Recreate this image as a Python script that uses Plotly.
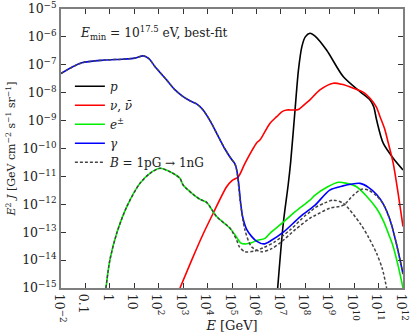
import numpy as np
import plotly.graph_objects as go

# values, as log10(E / GeV) and log10(E^2 J)
P_LOGE = [6.87, 7.1, 7.3, 7.4, 7.58, 7.72, 7.86, 8.0, 8.19, 8.4, 8.87, 9.56, 10.24, 10.65, 10.8,
          10.92, 11.19, 11.6, 12.0]
P_LOGJ = [-15.0, -12.68, -11.3, -10.5, -8.62, -7.19, -6.35, -6.0, -5.87, -5.97, -6.47, -7.43, -7.96,
          -8.26, -8.5, -8.98, -9.81, -10.35, -10.77]

NU_LOGE = [2.87, 3.35, 3.8, 4.23, 4.78, 5.0, 5.26, 5.53, 6.0, 6.15, 6.55, 6.83, 7.05, 7.24, 7.5,
           7.72, 8.0, 8.19, 8.6, 9.15, 9.5, 9.97, 10.4, 10.65, 10.9, 11.06, 11.25, 11.4, 11.6,
           11.8, 12.0]
NU_LOGJ = [-15.0, -14.0, -13.1, -12.32, -11.37, -11.15, -11.01, -10.53, -9.81, -9.69, -9.1, -8.86,
           -8.68, -8.62, -8.62, -8.6, -8.4, -8.26, -7.9, -7.66, -7.7, -7.84, -8.0, -8.2, -8.5,
           -8.86, -9.3, -9.81, -10.53, -11.6, -12.8]

EE_LOGE = [-0.16, 0.0, 0.28, 0.69, 1.23, 1.64, 2.05, 2.5, 2.87, 3.0, 3.42, 3.69, 3.96, 4.37,
           4.92, 5.2, 5.35, 5.53, 5.8, 6.0, 6.35, 6.55, 7.1, 7.6, 8.19, 8.4, 8.9, 9.35, 9.7,
           10.1, 10.5, 10.92, 11.2, 11.47, 11.6, 11.8, 12.0]
EE_LOGJ = [-15.0, -14.0, -13.04, -12.09, -11.25, -10.89, -10.71, -10.85, -11.07, -11.31, -11.65,
           -11.82, -11.93, -12.44, -12.86, -13.2, -13.38, -13.42, -13.38, -13.3, -13.22, -13.04,
           -12.64, -12.25, -11.85, -11.67, -11.38, -11.21, -11.25, -11.37, -11.7, -12.15, -12.6,
           -13.2, -13.52, -14.2, -15.0]

GAM_LOGE = [-2.0, -1.15, -0.2, 0.5, 1.03, 1.37, 1.6, 1.85, 2.33, 2.67, 3.0, 3.3, 3.55, 3.8, 4.1,
            4.4, 4.7, 4.95, 5.12, 5.2, 5.28, 5.36, 5.45, 5.6, 5.8, 6.0, 6.3, 6.6, 7.1, 7.8, 8.4,
            9.0, 9.5, 10.24, 10.6, 10.92, 11.2, 11.47, 11.7, 11.88, 12.0]
GAM_LOGJ = [-7.31, -6.93, -6.83, -6.8, -6.76, -6.68, -6.78, -7.07, -7.55, -7.9, -8.14, -8.3,
            -8.4, -8.6, -9.0, -9.5, -10.0, -10.35, -10.55, -10.8, -11.3, -12.0, -12.5, -12.9,
            -13.15, -13.32, -13.42, -13.3, -13.0, -12.44, -12.03, -11.49, -11.35, -11.25, -11.4,
            -11.65, -12.0, -12.56, -13.3, -14.0, -14.5]

# B = 1pG -> 1nG variants (dashed)
EE_B_LOGE = [-0.16, 0.0, 0.28, 0.69, 1.23, 1.64, 2.05, 2.5, 2.87, 3.0, 3.42, 3.69, 3.96, 4.37,
             4.92, 5.2, 5.3, 5.53, 5.9, 6.3, 6.76, 7.4, 8.0, 8.2, 8.4, 8.8, 9.15, 9.56, 10.24,
             10.6, 10.92, 11.15, 11.33]
EE_B_LOGJ = [-15.0, -14.0, -13.04, -12.09, -11.25, -10.89, -10.71, -10.85, -11.07, -11.31, -11.65,
             -11.82, -11.93, -12.44, -12.86, -13.3, -13.52, -13.7, -13.68, -13.55, -13.34, -12.9,
             -12.4, -12.27, -12.12, -11.95, -11.85, -11.97, -12.68, -13.2, -13.76, -14.3, -15.0]

GAM_B_LOGE = [-2.0, -1.15, -0.2, 0.5, 1.03, 1.37, 1.6, 1.85, 2.33, 2.67, 3.0, 3.3, 3.55, 3.8,
              4.1, 4.4, 4.7, 4.95, 5.12, 5.2, 5.33, 5.53, 5.8, 6.21, 6.6, 7.03, 7.6, 8.19, 8.4,
              9.0, 9.56, 9.97, 10.31, 10.6, 10.92, 11.2, 11.47, 11.7, 11.88, 12.0]
GAM_B_LOGJ = [-7.31, -6.93, -6.83, -6.8, -6.76, -6.68, -6.78, -7.07, -7.55, -7.9, -8.14, -8.3,
              -8.4, -8.6, -9.0, -9.5, -10.0, -10.35, -10.55, -10.8, -11.85, -12.92, -13.52, -13.7,
              -13.6, -13.34, -12.9, -12.5, -12.4, -12.14, -12.03, -11.67, -11.46, -11.5, -11.7,
              -12.0, -12.56, -13.3, -14.0, -14.5]

X_TICK_EXP = list(range(-2, 13))
X_TICK_TEXT = ["10<sup>−2</sup>", "0.1", "1", "10"] + [f"10<sup>{k}</sup>" for k in range(2, 13)]
Y_TICK_EXP = list(range(-15, -4))
Y_TICK_TEXT = [f"10<sup>−{-k}</sup>" for k in Y_TICK_EXP]

FONT = "DejaVu Serif"
FRAME = "#7f7f7f"
INK = "#222222"


def pow10(values):
    return np.power(10.0, np.asarray(values, dtype=float))


fig = go.Figure()

solid = [
    ("<i>p</i>", P_LOGE, P_LOGJ, "#000000"),
    ("<i>ν</i>, <i>ν̄</i>", NU_LOGE, NU_LOGJ, "#ff0000"),
    ("<i>e</i><sup>±</sup>", EE_LOGE, EE_LOGJ, "#00ee00"),
    ("<i>γ</i>", GAM_LOGE, GAM_LOGJ, "#0000ff"),
]
for name, lx, ly, color in solid:
    fig.add_scatter(
        x=pow10(lx), y=pow10(ly), mode="lines", name=name,
        line={"color": color, "width": 1.6, "shape": "spline", "smoothing": 0.8},
    )

for i, (lx, ly) in enumerate([(EE_B_LOGE, EE_B_LOGJ), (GAM_B_LOGE, GAM_B_LOGJ)]):
    fig.add_scatter(
        x=pow10(lx), y=pow10(ly), mode="lines",
        name="<i>B</i> = 1pG → 1nG", legendgroup="B", showlegend=i == 0,
        line={"color": "#444444", "width": 1.5, "dash": "3px,2px",
              "shape": "spline", "smoothing": 0.8},
    )

fig.add_annotation(
    x=0.05, y=0.915, xref="paper", yref="paper", xanchor="left", yanchor="middle",
    showarrow=False, align="left",
    text="<i>E</i><sub>min</sub> = 10<sup>17.5</sup> eV, best-fit",
    font={"family": FONT, "size": 12.2, "color": INK},
)

axis_common = {
    "type": "log",
    "automargin": False,
    "showline": True,
    "linecolor": FRAME,
    "linewidth": 2,
    "mirror": "ticks",
    "ticks": "inside",
    "ticklen": 5,
    "tickwidth": 1,
    "tickcolor": "#333333",
    "showgrid": False,
    "zeroline": False,
    "tickfont": {"family": FONT, "size": 12.5, "color": INK},
}

fig.update_layout(
    width=415,
    height=333,
    margin={"l": 61, "r": 12, "t": 9, "b": 45},
    paper_bgcolor="#ffffff",
    plot_bgcolor="#ffffff",
    font={"family": FONT, "color": INK},
    showlegend=True,
    legend={
        "x": 0.026, "y": 0.775, "xanchor": "left", "yanchor": "top",
        "bgcolor": "rgba(0,0,0,0)", "font": {"family": FONT, "size": 12, "color": INK},
        "itemwidth": 30, "tracegroupgap": 0,
    },
    xaxis={
        **axis_common,
        "range": [-2, 12],
        "tickvals": pow10(X_TICK_EXP),
        "ticktext": X_TICK_TEXT,
        "ticklabelstandoff": -5,
        "title": {"text": "<i>E</i> [GeV]", "font": {"family": FONT, "size": 13}, "standoff": 2},
    },
    yaxis={
        **axis_common,
        "range": [-15, -5],
        "tickvals": pow10(Y_TICK_EXP),
        "ticktext": Y_TICK_TEXT,
        "title": {
            "text": "<i>E</i><sup>2</sup> <i>J</i> [GeV cm<sup>−2</sup> s<sup>−1</sup> sr<sup>−1</sup>]",
            "font": {"family": FONT, "size": 11},
            "standoff": 4,
        },
    },
)

# the page's default body margin would push the figure 8px right and down
fig.write_html(
    "out.html",
    config={"displayModeBar": False},
    post_script="document.body.style.margin = '0';",
)
